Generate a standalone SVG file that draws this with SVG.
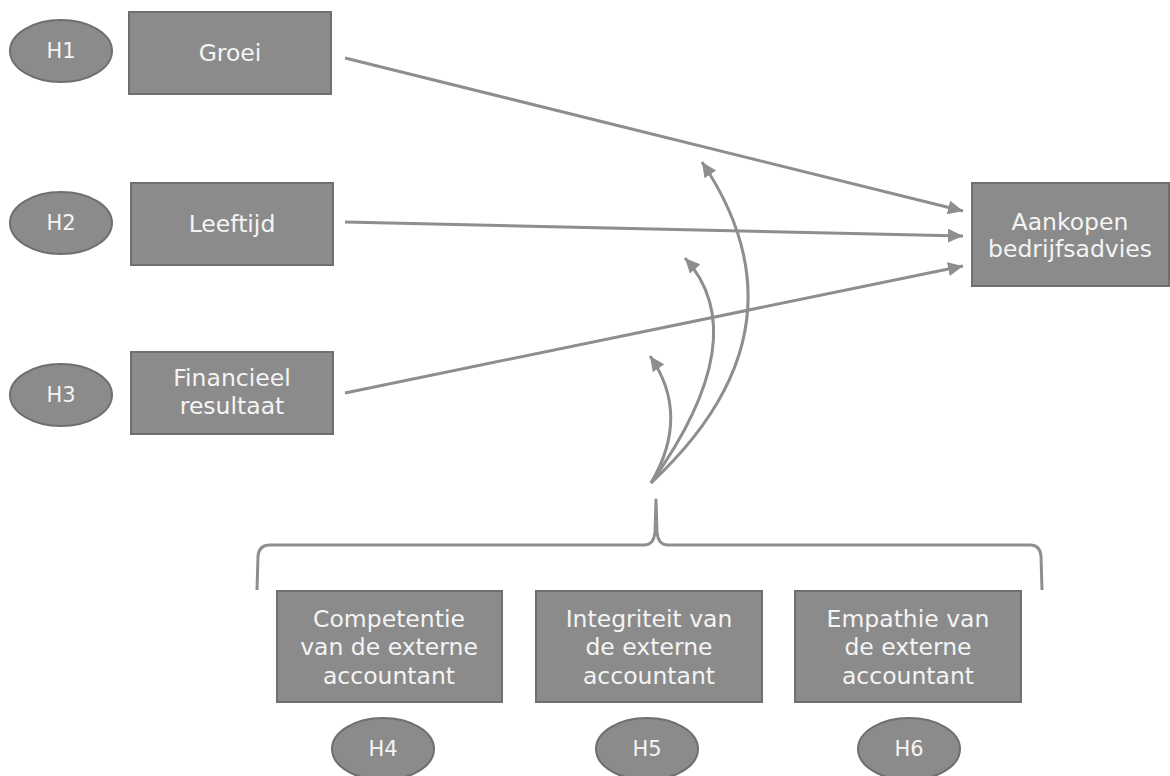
<svg xmlns="http://www.w3.org/2000/svg" width="1170" height="776" viewBox="0 0 1170 776">
<style>
.box{fill:#8b8b8b;stroke:#6f6f6f;stroke-width:2}
.ell{fill:#8b8b8b;stroke:#6f6f6f;stroke-width:2}
.t{font-family:"DejaVu Sans",Verdana,sans-serif;font-size:23.5px;fill:#f4f4f4;text-anchor:middle}
.h{font-family:"DejaVu Sans",Verdana,sans-serif;font-size:21px;fill:#f4f4f4;text-anchor:middle}
.c{fill:none;stroke:#8e8e8e;stroke-width:3}
</style>
<defs>
<marker id="ah" markerUnits="userSpaceOnUse" markerWidth="16" markerHeight="14" refX="15" refY="7" orient="auto">
<path d="M0,0 L15,7 L0,14 Z" fill="#8e8e8e"/>
</marker>
</defs>
<rect width="1170" height="776" fill="#ffffff"/>
<g id="connectors">
<path class="c" d="M345,58 L963,211" marker-end="url(#ah)"/>
<path class="c" d="M345,222 L963,236" marker-end="url(#ah)"/>
<path class="c" d="M345,393 L963,266" marker-end="url(#ah)"/>
<path class="c" d="M651,483 Q815,330 702,162" marker-end="url(#ah)"/>
<path class="c" d="M651,483 Q756,336 685,258" marker-end="url(#ah)"/>
<path class="c" d="M651,483 Q691,415 650,356" marker-end="url(#ah)"/>
<path class="c" stroke-linejoin="round" d="M257,590 L258,556 Q259,545 270,545 L644,545 Q654,545 655,532 L656,500 L657,532 Q658,545 668,545 L1030,545 Q1040,545 1041,556 L1042,590"/>
</g>
<g id="H1"><ellipse class="ell" cx="61" cy="51" rx="51" ry="31"/><text class="h" x="61" y="58">H1</text></g>
<g id="groei"><rect class="box" x="129" y="12" width="202" height="82"/><text class="t" x="230" y="61">Groei</text></g>
<g id="H2"><ellipse class="ell" cx="61" cy="223" rx="51" ry="31"/><text class="h" x="61" y="230">H2</text></g>
<g id="leeftijd"><rect class="box" x="131" y="183" width="202" height="82"/><text class="t" x="232" y="232">Leeftijd</text></g>
<g id="H3"><ellipse class="ell" cx="61" cy="395" rx="51" ry="31"/><text class="h" x="61" y="402">H3</text></g>
<g id="financieel"><rect class="box" x="131" y="352" width="202" height="82"/><text class="t" x="232" y="386">Financieel</text><text class="t" x="232" y="414">resultaat</text></g>
<g id="aankopen"><rect class="box" x="972" y="183" width="197" height="103"/><text class="t" x="1070" y="230">Aankopen</text><text class="t" x="1070" y="257">bedrijfsadvies</text></g>
<g id="competentie"><rect class="box" x="277" y="591" width="225" height="111"/><text class="t" x="389" y="627">Competentie</text><text class="t" x="389" y="655">van de externe</text><text class="t" x="389" y="684">accountant</text></g>
<g id="integriteit"><rect class="box" x="536" y="591" width="226" height="111"/><text class="t" x="649" y="627">Integriteit van</text><text class="t" x="649" y="655">de externe</text><text class="t" x="649" y="684">accountant</text></g>
<g id="empathie"><rect class="box" x="795" y="591" width="226" height="111"/><text class="t" x="908" y="627">Empathie van</text><text class="t" x="908" y="655">de externe</text><text class="t" x="908" y="684">accountant</text></g>
<g id="H4"><ellipse class="ell" cx="383" cy="749" rx="51" ry="31"/><text class="h" x="383" y="756">H4</text></g>
<g id="H5"><ellipse class="ell" cx="647" cy="749" rx="51" ry="31"/><text class="h" x="647" y="756">H5</text></g>
<g id="H6"><ellipse class="ell" cx="909" cy="749" rx="51" ry="31"/><text class="h" x="909" y="756">H6</text></g>
</svg>
